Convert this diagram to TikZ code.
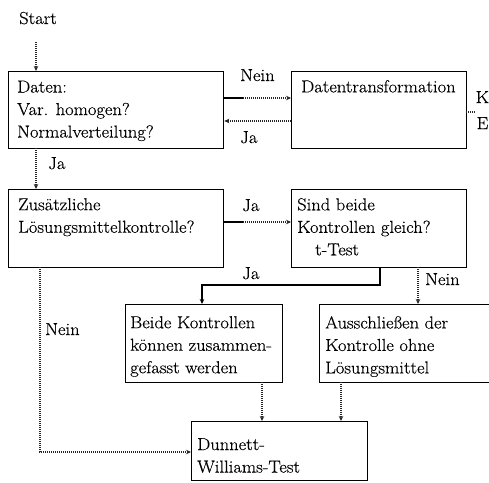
\documentclass[tikz,border=0pt]{standalone}
\usepackage{fontspec}
\setmainfont{Latin Modern Roman}[FakeStretch=1.07, FakeBold=0.4]
\usetikzlibrary{arrows.meta}
\begin{document}
\begin{tikzpicture}[x=1pt,y=-1pt,
  box/.style={draw, line width=1.3pt, inner sep=0pt, anchor=north west},
  txt/.style={inner sep=0pt, anchor=north west, align=left, font=\fontsize{17.3}{22.5}\selectfont},
  lbl/.style={inner sep=0pt, anchor=base west, font=\fontsize{17.3}{22.5}\selectfont},
  conn/.style={line width=1.3pt, dash pattern=on 1pt off 1pt, draw=black!85},
  solidline/.style={line width=1.2pt, draw=black},
  tip/.style={-{Stealth[length=5pt,width=4.5pt]}}
]
\useasboundingbox (0,0) rectangle (489,482);

% boxes
\node[box, minimum width=215pt, minimum height=77pt] (daten) at (8,71) {};
\node[box, minimum width=175pt, minimum height=77pt] (trans) at (291,71) {};
\node[box, minimum width=215pt, minimum height=78pt] (zus) at (8,189) {};
\node[box, minimum width=175pt, minimum height=78pt] (sind) at (291,189) {};
\node[box, minimum width=157pt, minimum height=78pt] (beide) at (125,304) {};
\node[box, minimum width=175pt, minimum height=78pt] (aus) at (319,304) {};
\node[box, minimum width=176pt, minimum height=59pt] (dun) at (191,421) {};

% texts
\node[lbl] (start) at (19,24) {Start};
\node[txt] (tdaten) at (17,80.5) {Daten:\\Var. homogen?\\Normalverteilung?};
\node[txt] (ttrans) at (301,80) {Datentransformation};
\node[txt] (tzus) at (18,198) {Zusätzliche\\Lösungsmittelkontrolle?};
\node[txt] (tsind) at (297,198) {Sind beide\\Kontrollen gleich?\\\hspace*{18pt}t-Test};
\node[txt] (tbeide) at (130,316) {Beide Kontrollen\\können zusammen-\\gefasst werden};
\node[txt] (taus) at (325,316) {Ausschließen der\\Kontrolle ohne\\Lösungsmittel};
\node[txt] (tdun) at (197,438) {Dunnett-\\Williams-Test};

% labels
\node[lbl] (lnein1) at (240,81) {Nein};
\node[lbl] (lja1) at (240,143) {Ja};
\node[lbl] (lja2) at (48,169) {Ja};
\node[lbl] (lja3) at (242,211) {Ja};
\node[lbl] (lja4) at (242,279) {Ja};
\node[lbl] (lnein2) at (425,285) {Nein};
\node[lbl] (lnein3) at (45,335) {Nein};
\node[lbl] (lk) at (475.5,103) {K};
\node[lbl] (le) at (476.5,129) {E};

% connectors
\coordinate (s1) at (36,42);
\draw[conn,tip] (s1) -- (s1 |- daten.north);

\coordinate (n1) at (243,98);
\draw[solidline] (daten.east |- n1) -- (n1);
\draw[conn,tip] (n1) -- (n1 -| trans.west);

\coordinate (j1) at (291,121);
\draw[conn,tip] (j1) -- (j1 -| daten.east);

\coordinate (j2) at (36,148);
\draw[conn,tip] (j2) -- (j2 |- zus.north);

\coordinate (j3) at (243,222);
\draw[solidline] (zus.east |- j3) -- (j3);
\draw[conn,tip] (j3) -- (j3 -| sind.west);

\coordinate (j4a) at (380,267);
\coordinate (j4b) at (202,285);
\draw[solidline,-{Stealth[length=5pt,width=4.5pt]}] (j4a) -- (j4a |- j4b) -- (j4b) -- (j4b |- beide.north);

\coordinate (n2) at (418,267);
\draw[conn,tip] (n2) -- (n2 |- aus.north);

\coordinate (n3a) at (40,267);
\coordinate (n3b) at (40,452);
\draw[conn,tip] (n3a) -- (n3b) -- (n3b -| dun.west);

\coordinate (b1) at (262,382);
\draw[conn,tip] (b1) -- (b1 |- dun.north);

\coordinate (a1) at (341,382);
\draw[conn,tip] (a1) -- (a1 |- dun.north);

\coordinate (k1) at (466,112);
\draw[conn] (k1) -- (476,112);
\end{tikzpicture}
\end{document}
